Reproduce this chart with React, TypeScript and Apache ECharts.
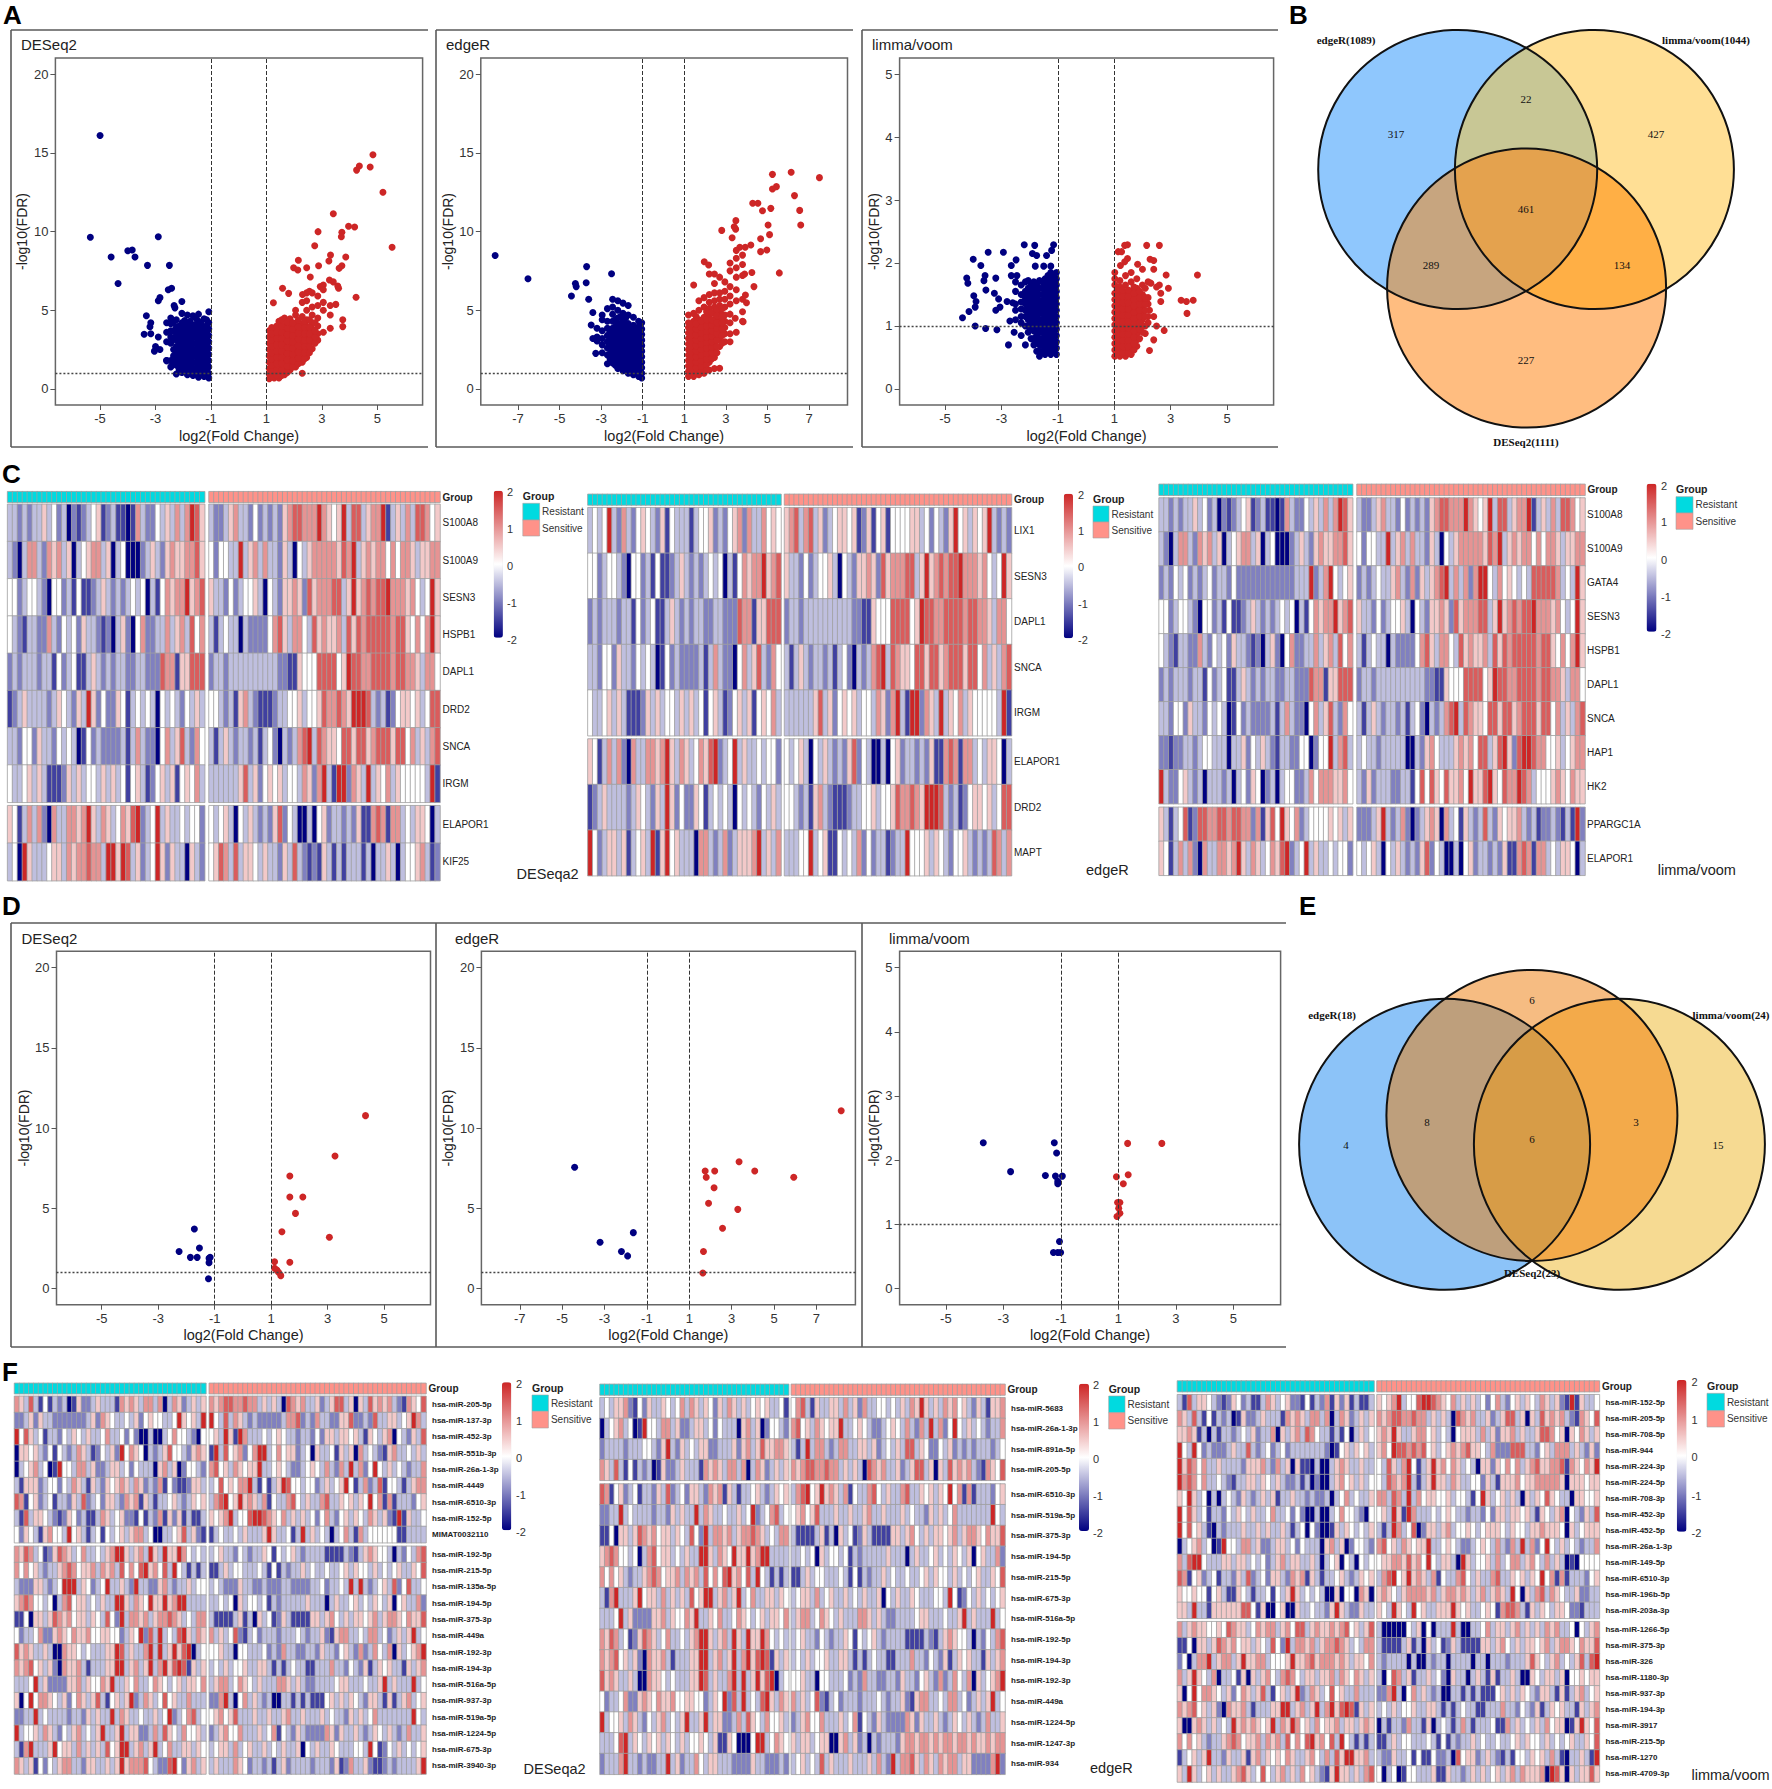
import React, { useEffect, useRef } from "react";
import * as echarts from "echarts";

// ---------- volcano data: typed reads from the picture ([x, y] outliers, [x, [y...]] dense columns)
const A1_BLUE_PTS = [[-5,16.1],[-5.35,9.63],[-2.9,9.67],[-4,8.78],[-3.84,8.83],[-4.6,8.38],[-3.74,8.38],[-3.29,7.85],[-2.5,7.85],[-4.35,6.7],[-2.54,6.3],[-2.42,6.4],[-2.9,5.6],[-2.84,5.8],[-2.05,5.55],[-2.33,5.3],[-2.3,5.15],[-3.33,4.65],[-3.17,4.2],[-3.2,3.95],[-3.41,3.47],[-3.17,3.5],[-2.9,3.3],[-3,2.7],[-3.04,2.4],[-2.84,2.5],[-2.6,1.8]];
const A1_BLUE_COLS: any[] = [[-1.08,[.7,1,1.4,1.8,2.2,2.6,3,3.4,3.8,4.2,4.9]],[-1.25,[.8,1.15,1.55,1.95,2.35,2.75,3.15,3.55,3.95,4.45]],[-1.45,[.75,1.1,1.5,1.9,2.3,2.7,3.1,3.5,3.9,4.3,4.75]],[-1.65,[.85,1.25,1.65,2.05,2.45,2.85,3.25,3.65,4.05,4.65]],[-1.85,[.9,1.3,1.7,2.1,2.5,2.9,3.3,3.7,4.1,4.7]],[-2.05,[1.05,1.4,1.8,2.2,2.6,3,3.4,3.8,4.2,4.8]],[-2.25,[.95,1.5,1.9,2.3,2.7,3.1,3.5,3.9,4.4]],[-2.45,[1.4,1.8,2.9,3.3,3.7,4.15,4.5]],[-2.6,[1.8,3,3.6,4.2]],
  [-1.16,[.9,1.25,1.6,2,2.4,2.8,3.2,3.6,4,4.4]],[-1.35,[.95,1.3,1.7,2.1,2.5,2.9,3.3,3.7,4.1]],[-1.55,[.95,1.3,1.7,2.1,2.5,2.9,3.3,3.7,4.1,4.5]],[-1.75,[1.05,1.45,1.85,2.25,2.65,3.05,3.45,3.85,4.3]],[-1.95,[1.1,1.5,1.9,2.3,2.7,3.1,3.5,3.9,4.35]],[-2.15,[1.2,1.6,2,2.4,2.8,3.2,3.6,4]],[-2.35,[1.65,2.1,2.5,3.2,3.7,4.2]]];
const A1_RED_PTS = [[4.84,14.88],[4.74,14.1],[4.35,14.16],[4.25,13.9],[5.2,12.49],[3.41,11.13],[3.96,10.33],[4.18,10.29],[2.86,9.99],[3.72,9.95],[3.7,9.67],[5.53,9],[2.74,9.1],[3.31,8.5],[3.86,8.38],[2.15,8.17],[3.25,8.13],[1.98,7.7],[2.13,7.55],[2.45,7.7],[2.88,7.83],[3.72,7.83],[3.62,7.66],[2.58,7.11],[3.27,6.92],[3.41,6.8],[3.57,6.54],[3.6,6.4],[2.94,6.5],[3.05,6.6],[1.58,6.4],[1.8,6.07],[4.23,5.82],[3.5,5.37],[1.25,5.48],[2.3,6],[2.55,6.2]];
const A1_RED_COLS: any[] = [[1.1,[.65,.95,1.3,1.7,2.1,2.5,2.9,3.3,3.7]],[1.28,[.7,1,1.4,1.8,2.2,2.6,3,3.4,3.8]],[1.45,[.7,1.05,1.45,1.85,2.25,2.65,3.05,3.45,3.85,4.3]],[1.65,[.9,1.25,1.65,2.05,2.45,2.85,3.25,3.65,4.05,4.5]],[1.85,[1.2,1.6,2,2.4,2.8,3.2,3.6,4,4.45]],[2.05,[1.4,1.75,2.15,2.55,2.95,3.35,3.75,4.15,4.7,5]],[2.29,[1,1.7,2.1,2.5,2.9,3.3,3.7,4.1,4.6,5.5]],[2.45,[2,2.4,2.8,3.2,3.6,4,4.4,5,5.6,6.1]],[2.65,[2.55,3,3.4,3.8,4.2,4.7,5.2,6.1]],[2.85,[3.1,3.5,4,4.5,5.3,5.9]],[3.05,[3.6,5,5.5,6.3]],[3.3,[3.85,4.7,5.3]],[3.75,[3.96,4.4]],
  [1.19,[.8,1.15,1.5,1.9,2.3,2.7,3.1,3.5,3.9]],[1.37,[.85,1.2,1.6,2,2.4,2.8,3.2,3.6,4]],[1.55,[.85,1.2,1.6,2,2.4,2.8,3.2,3.6,4,4.4]],[1.75,[1.05,1.45,1.85,2.25,2.65,3.05,3.45,3.85,4.25]],[1.95,[1.4,1.8,2.2,2.6,3,3.4,3.8,4.2]],[2.15,[1.6,1.95,2.35,2.75,3.15,3.55,3.95,4.4]],[2.37,[1.9,2.3,2.7,3.1,3.5,3.9,4.3]],[2.55,[2.3,2.7,3.1,3.5,3.9,4.4]],[2.75,[2.9,3.3,3.7,4.2]]];
const A2_BLUE_PTS = [[-8.1,8.47],[-6.52,7],[-3.7,7.77],[-2.5,7.32],[-3.72,6.75],[-4.24,6.7],[-4.2,6.5],[-4.43,5.9],[-3.6,5.7],[-3.4,4.85],[-3.48,4.06],[-3.26,2.26],[-3.4,3.2]];
const A2_BLUE_COLS: any[] = [[-1.05,[.7,1,1.35,1.7,2.05,2.4,2.75,3.1,3.45,3.8,4.2]],[-1.2,[.8,1.15,1.5,1.85,2.2,2.55,2.9,3.25,3.6,3.95,4.3]],[-1.45,[.9,1.25,1.6,1.95,2.3,2.65,3,3.35,3.7,4.05,4.55]],[-1.7,[1,1.35,1.7,2.05,2.4,2.75,3.1,3.45,3.8,4.15,4.7,5.3]],[-1.95,[1.15,1.5,1.85,2.2,2.55,2.9,3.25,3.6,3.95,4.3,4.8,5.45]],[-2.2,[1.3,1.65,2,2.35,2.7,3.05,3.4,3.75,4.1,4.5,5,5.6]],[-2.45,[1.65,2,2.35,2.75,3.15,3.5,3.85,4.3,4.75,5.2,5.7]],[-2.7,[1.6,2.15,2.6,3,3.4,3.85,4.3,5.1]],[-2.95,[2.3,2.8,3.2,3.7,4.4,4.7]],[-3.2,[3.05,3.3,3.85]],
  [-1.12,[.95,1.2,1.55,1.9,2.25,2.6,2.95,3.3,3.65,4]],[-1.32,[1,1.35,1.7,2.05,2.4,2.75,3.1,3.45,3.8]],[-1.57,[1.1,1.45,1.8,2.15,2.5,2.85,3.2,3.55,3.9]],[-1.82,[1.2,1.55,1.9,2.25,2.6,2.95,3.3,3.65,4,4.5]],[-2.07,[1.35,1.7,2.05,2.4,2.75,3.1,3.45,3.8,4.15,4.6]],[-2.32,[1.5,1.85,2.2,2.55,2.9,3.25,3.6,3.95,4.4]],[-2.57,[1.9,2.25,2.6,3,3.35,3.7]]];
const A2_RED_PTS = [[6.14,13.76],[5.24,13.63],[7.5,13.42],[5.43,12.85],[5.24,12.7],[6.3,12.28],[6.55,11.34],[4.29,11.79],[4.54,11.79],[5.16,11.47],[4.76,11.32],[6.6,10.41],[3.48,10.69],[3.4,10.3],[3.47,10.15],[2.8,10.07],[5.03,10.41],[5.1,9.8],[4.67,9.54],[3.3,9.6],[4.97,8.83],[4.67,8.72],[4.2,9.14],[3.93,9],[3.67,9],[5.57,7.37],[1.96,8.08],[2.17,7.87],[4.35,6.5],[3.94,5.97],[3.99,5.48],[3.45,4.49],[3.83,4.27],[4.25,7.4],[3.9,7.3]];
const A2_RED_COLS: any[] = [[1.2,[.8,1.1,1.45,1.8,2.15,2.5,2.85,3.2,3.55,3.9,4.2,4.7]],[1.45,[.8,1.15,1.5,1.85,2.2,2.55,2.9,3.25,3.6,3.95,4.3,4.8,6.6]],[1.7,[.9,1.25,1.6,1.95,2.3,2.65,3,3.35,3.7,4.05,4.4,5,5.6]],[1.95,[1,1.35,1.7,2.05,2.4,2.75,3.1,3.45,3.8,4.15,4.55,5.2,5.8]],[2.2,[1.2,1.7,2.1,2.45,2.8,3.15,3.5,3.85,4.2,4.6,5.1,5.5,6,7.3]],[2.45,[1.3,2,2.5,2.9,3.3,3.65,4,4.4,4.8,5.2,5.6,6.1,6.7,7.3]],[2.7,[1.31,2.7,3.2,3.6,4,4.4,4.85,5.3,5.7,6.1,7.1]],[2.95,[3,3.5,3.9,4.3,4.7,5.2,5.7,6.2,6.8]],[3.2,[3,3.5,4.2,4.75,5.4,5.9,6.5,7.5,8]],[3.5,[3.6,5.6,6.3,7.1,7.7,8.3,8.8]],[3.8,[4.3,4.9,5.7,7.2,7.9,8.5]],
  [1.32,[.95,1.3,1.65,2,2.35,2.7,3.05,3.4,3.75,4.1]],[1.57,[1,1.35,1.7,2.05,2.4,2.75,3.1,3.45,3.8,4.15,4.6]],[1.82,[1.1,1.45,1.8,2.15,2.5,2.85,3.2,3.55,3.9,4.3]],[2.07,[1.2,1.55,1.9,2.25,2.6,2.95,3.3,3.65,4,4.4,4.9]],[2.32,[1.9,2.3,2.65,3,3.35,3.7,4.05,4.4,4.85]],[2.57,[2.3,2.7,3.1,3.5,3.85,4.2,4.65,5.05]],[2.82,[2.9,3.4,3.8,4.2,4.6,5.1]]];
const A3_BLUE_PTS = [[-4.38,1.13],[-4.15,1.23],[-3.93,1],[-3.56,.96],[-3.16,.94],[-2.75,.7],[-4.23,1.76],[-4.19,1.68],[-4,2.06],[-3.73,1.96],[-3.47,2.17],[-2.93,2.17],[-2.19,2.29],[-1.82,2.28],[-1.15,2.29],[-1.9,2.15],[-1.75,2.12],[-1.4,2.12],[-1.22,2.2],[-2.65,1.96],[-2.48,2.05],[-1.8,1.95],[-1.5,1.95],[-1.25,1.95],[-3.58,1.8],[-3.62,1.72],[-3.2,1.76],[-2.65,1.8],[-2.45,1.8],[-3.98,1.48],[-3.55,1.57],[-3.25,1.52],[-3.9,1.39],[-3.93,1.3],[-3.1,1.43],[-3.2,1.25],[-3.05,1.3],[-2.8,1.39],[-2.6,1.37],[-2.7,1.08],[-2.5,1.25],[-2.55,.9],[-2.3,.85],[-2.15,.7]];
const A3_BLUE_COLS: any[] = [[-1.05,[.55,.65,.75,.85,.95,1.05,1.15,1.25,1.35,1.45,1.55,1.65,1.75,1.85]],[-1.25,[.55,.65,.75,.85,.95,1.05,1.15,1.25,1.35,1.45,1.55,1.65,1.75,1.85]],[-1.45,[.55,.65,.75,.85,.95,1.05,1.15,1.25,1.35,1.45,1.55,1.65,1.75]],[-1.65,[.52,.6,.7,.8,.9,1,1.1,1.2,1.3,1.4,1.5,1.6,1.72]],[-1.85,[.7,.8,.92,1.02,1.12,1.22,1.32,1.42,1.52,1.62,1.7]],[-2.05,[.9,1,1.1,1.2,1.3,1.4,1.5,1.6,1.72]],[-2.3,[1.05,1.15,1.27,1.38,1.5,1.65]],[-2.5,[1.1,1.35,1.55,1.7]],
  [-1.15,[.6,.7,.8,.9,1,1.1,1.2,1.3,1.4,1.5,1.6,1.7,1.8]],[-1.35,[.6,.7,.8,.9,1,1.1,1.2,1.3,1.4,1.5,1.6,1.7,1.8]],[-1.55,[.6,.7,.8,.9,1,1.1,1.2,1.3,1.4,1.5,1.6,1.7]],[-1.75,[.6,.75,.85,.95,1.05,1.15,1.25,1.35,1.45,1.55,1.65]],[-1.95,[.8,.95,1.05,1.15,1.25,1.35,1.45,1.55,1.65]],[-2.15,[1,1.15,1.25,1.35,1.45,1.55,1.7]]];
const A3_RED_PTS = [[1.47,2.29],[1.37,2.28],[1.14,2.18],[1.26,2.18],[2.15,2.28],[2.6,2.28],[1.47,2.07],[1.37,2.02],[1.22,1.96],[2.27,2.06],[2.4,2.04],[2.4,1.9],[1.83,1.98],[2,1.9],[2.84,1.81],[3.95,1.81],[2.6,1.65],[2.3,1.68],[2.5,1.62],[2.92,1.6],[2.65,1.52],[2.65,1.39],[3.37,1.41],[3.8,1.41],[3.56,1.39],[3.58,1.2],[2.5,1],[2.77,.93],[2.25,.61],[2.4,.78],[2.1,.88],[2.25,1.25],[2.4,1.15]];
const A3_RED_COLS: any[] = [[1.02,[.52,.62,.72,.82,.92,1.02,1.12,1.22,1.32,1.42,1.52,1.65,1.75,1.85]],[1.2,[.52,.62,.72,.82,.92,1.02,1.12,1.22,1.32,1.42,1.52,1.62,1.72]],[1.4,[.52,.62,.72,.82,.92,1.02,1.12,1.22,1.32,1.42,1.52,1.65,1.8]],[1.6,[.55,.65,.75,.85,.95,1.05,1.15,1.25,1.35,1.45,1.55,1.7,1.85]],[1.8,[.68,.78,.88,.98,1.08,1.18,1.28,1.38,1.48,1.6,1.75]],[2,[.9,1,1.1,1.2,1.3,1.4,1.5,1.65]],[2.2,[1.05,1.15,1.35,1.45,1.7]],
  [1.1,[.57,.67,.77,.87,.97,1.07,1.17,1.27,1.37,1.47,1.57]],[1.3,[.57,.67,.77,.87,.97,1.07,1.17,1.27,1.37,1.47,1.57]],[1.5,[.57,.67,.77,.87,.97,1.07,1.17,1.27,1.37,1.47,1.57]],[1.7,[.62,.72,.82,.92,1.02,1.12,1.22,1.32,1.42,1.52,1.62]],[1.9,[.8,.95,1.05,1.15,1.25,1.35,1.45,1.55]],[2.1,[1,1.15,1.25,1.35,1.45,1.6]]];
const D1_BLUE = [[-1.72,3.72],[-1.54,2.53],[-2.26,2.31],[-1.86,1.95],[-1.62,1.95],[-1.16,1.95],[-1.2,1.89],[-1.2,1.62],[-1.22,.62]];
const D1_RED = [[4.34,10.78],[3.26,8.27],[1.66,7.02],[1.66,5.71],[2.12,5.71],[1.86,4.69],[1.38,3.55],[3.06,3.2],[1.12,1.68],[1.66,1.64],[1.12,1.27],[1.2,1.16],[1.26,1.02],[1.34,.81]];
const D2_BLUE = [[-4.41,7.56],[-1.64,3.49],[-3.21,2.89],[-2.2,2.31],[-1.91,2.04]];
const D2_RED = [[8.17,11.09],[3.35,7.91],[1.75,7.33],[2.2,7.33],[4.09,7.33],[1.8,6.94],[5.93,6.94],[2.17,6.29],[1.91,5.32],[3.29,4.94],[2.57,3.76],[1.67,2.31],[1.64,.98]];
const D3_BLUE = [[-3.7,2.27],[-1.23,2.27],[-1.15,2.11],[-2.75,1.82],[-1.54,1.76],[-1.19,1.75],[-.95,1.75],[-1.11,1.67],[-1.11,1.63],[-1.05,.73],[-1.26,.56],[-1.11,.56],[-1.01,.56]];
const D3_RED = [[1.32,2.26],[2.51,2.26],[1.34,1.77],[.93,1.74],[1.17,1.63],[.97,1.34],[1.05,1.34],[1.01,1.25],[1.05,1.17],[.95,1.12]];

const TICKS_5 = [-5, -3, -1, 1, 3, 5];
const TICKS_7 = [-7, -5, -3, -1, 1, 3, 5, 7];
const Y20 = [0, 5, 10, 15, 20];
const Y5 = [0, 1, 2, 3, 4, 5];

// ---------- heatmap rows: one digit per cell, 0 = -2 ... 4 = 0 ... 8 = +2  (Resistant, Sensitive)
const GENE_ROWS: Record<string, string[]> = {
  S100A8: ["3323233534 2302123451 2311016322 4353636875", "3223563324 2323256776 6686545837 7356681353 6377645"],
  S100A9: ["3203663265 6350345663 5034000235 3256556675", "4244338356 3633253043 5666665768 3565664646 6535566"],
  SESN3: ["4423443204 4231411235 3232343403 1465668567", "5332423445 3043255652 7566677358 5676778666 5643485"],
  HSPB1: ["4321332263 2434253321 2035204622 3363563746", "3134330322 2246753664 3756556375 7677777677 5464685"],
  DAPL1: ["2323332331 4234113532 3233223322 2766155777", "2332333333 3333221154 4477774587 7667777677 6653664"],
  DRD2: ["1235333323 5432538524 2254134343 0434324353", "4432315632 1112334453 4457667658 8873231245 5453477"],
  SNCA: ["3324425332 4343014232 2223136322 0463573264", "3135323323 1342032367 8376554775 7756777577 4635367"],
  IRGM: ["4334535311 1253534435 3534145312 4535145463", "3333335735 2454534436 5268318826 5383546354 4444381"],
  ELAPOR1: ["5413636206 3366568536 5346578234 8353343442", "4345304353 2325724300 3045233232 5116761663 4355403"],
  KIF25: ["3408533345 5365667663 8858735234 8525330532", "4576373554 3533253732 1215313133 3130335303 4456312"],
  LIX1: ["3434832632 4543251433 3134452324 5626336454", "5673673523 4554512514 5144445534 2432584535 4583232"],
  MAPT: ["8423553513 4538158453 3306632362 3555683536", "3334483451 1434362423 3123384445 3543244532 3237636"],
  GATA4: ["2324342323 4233242222 2222222233 3823684345", "2323433563 2625356783 6362688436 4543437777 7634385"],
  HAP1: ["2212233234 4333033524 3532133224 4024483673", "3433233333 0032564333 5656477357 8527887664 4534566"],
  HK2: ["8322453230 3332303425 4023034422 3646665564", "3252333223 3147475475 5648557854 7668763444 5654655"],
  PPARGC1A: ["5313471277 6677677662 6157485462 3444454535", "2223583236 2023565063 4153237325 4556323122 3213182"],
};
const MIR_ROWS: Record<string, string[]> = {
  "205-5p": ["6537314132 3015223533 3165653663 6036523535", "6567766766 3535307656 3352357735 0537565632 16547"],
  "137-3p": ["2235253322 2222235265 4334352454 4334854538", "8437365323 2222236672 3263322557 2232733553 45863"],
  "452-3p": ["8475341332 4354353346 3342420030 0346443204", "4538518633 3434543323 3242553554 5315435604 32537"],
  "551b-3p": ["0554532414 3236531243 5284654032 3574432565", "1837456246 8834645523 4053341535 0634321563 34353"],
  "26a-1-3p": ["0345634018 4436635223 5534243330 5635024432", "6745365455 8334543223 4543632638 3624843534 32336"],
  "4449": ["3155523442 4365315325 4565365232 6142112553", "3474546683 1413587443 4423534584 1362371443 13566"],
  "6510-3p": ["7614523413 3253723425 5326561531 3345323545", "3678458565 3614336743 5336733545 3548461613 33245"],
  "152-5p": ["3173554321 2542311365 3452214132 6152513113", "5456834478 8765463535 3424632453 5436535218 15334"],
  MIMAT0032110: ["4254315644 3845313414 3453566340 0334573521", "1343343533 3585334138 3534303463 1634444441 13333"],
  "192-5p": ["6576341257 6534633435 6885356385 3855864343", "3453324323 3541434532 3333111132 1356544303 24367"],
  "215-5p": ["6464532335 6764556365 6374647856 4738431313", "1135344333 4314132335 3433433453 5443534345 33547"],
  "135a-5p": ["3222553234 8883542348 3353283322 5632335344", "3432225332 2322233222 2334233438 3832345372 47334"],
  "194-5p": ["5676443403 6745534353 3885365485 5856883333", "3343405344 3413233333 5333035334 5343543504 53362"],
  "375-3p": ["1140553576 5645535437 4283665635 6676534366", "3111135130 5341253111 1553564353 5545635665 46557"],
  "449a": ["4233462256 5465564455 4423548273 8343785365", "6353472134 2333233343 2335215663 3436634235 35834"],
  "192-3p": ["7565335300 6554343335 5873533683 8358578034", "4453304433 3423263322 3325332453 2623643605 34568"],
  "194-3p": ["6567453520 6556313335 5883563583 6857871535", "3435344533 5531313433 1133363324 3251354533 15356"],
  "516a-5p": ["3334835222 2556354465 8335463346 5434535546", "3566346543 5333665353 2233334553 3343358353 33834"],
  "937-3p": ["5048466543 5246535731 4535823653 4745336333", "2268304635 3230033131 3111453535 4325531513 56345"],
  "519a-5p": ["2233834333 3233253533 8365334335 3482346734", "4564573335 3353356335 3335343325 3534633333 33843"],
  "1224-5p": ["8344536532 4356343583 3583552236 3754364453", "2356446333 5346143253 2222652533 5323543532 36335"],
  "675-3p": ["3168333584 5536353537 4588356358 3463355354", "3455363453 3534353350 4353354333 4438412435 34345"],
  "3940-3p": ["6535142435 6633255335 3585666743 2278425635", "3533365423 3231352333 3233325126 3352112323 33358"],
  "5683": ["3435562142 5335434636 5354253653 5345453341", "4673153355 3635263344 3435365853 5365645325 31556"],
  "891a-5p": ["2333323334 4325832534 3552233352 5635755665", "3138366323 6633553523 4353773542 2435232323 33234"],
  "1247-3p": ["3334783543 5453543534 4543511540 0048834654", "5355345500 5635230323 3325665665 6566566565 56566"],
  "934": ["2333683323 2233835233 6435533322 2253322232", "3453437353 3353335363 2836675365 3656635522 22682"],
  "708-5p": ["5565130313 3234352336 0535637643 3131403534", "5658533566 4534304555 3635255635 3357764505 46535"],
  "944": ["8438423222 3533732342 3423333333 2014535453", "5648776767 4534565675 5436222777 3324536663 53252"],
  "224-3p": ["8576463353 3332555632 6350511030 0356533533", "4375368413 5856465343 0552546463 5675566716 54658"],
  "224-5p": ["8676463343 2133553543 5322313020 0356453534", "4376568313 5855365334 4253155564 5566666505 55455"],
  "708-3p": ["5485340303 4325323535 1335332322 3034634335", "6637638364 5544534431 4853453530 5354754330 55445"],
  "452-5p": ["8474531032 3335335353 3531340420 0153543435", "3138634702 5535634454 3455543544 3556555405 34555"],
  "149-5p": ["6378843335 5355343423 5635533530 3450430434", "4556657564 8435530853 4453634663 5643635301 04444"],
  "196b-5p": ["5445441453 1154313341 4358534343 0050440650", "5654356666 5635665653 5635653840 5367365433 52233"],
  "203a-3p": ["5538331555 5557741500 4500533433 2585322533", "5438543845 3355585453 3454167763 1535435542 21333"],
  "1266-5p": ["6356554454 7655346566 3564773565 5656745357", "3000004350 4033383003 3463553563 5353656334 04356"],
  "326": ["2403668356 6358556634 4458556756 6656535546", "3233330300 3233033330 3303332333 5754356343 57378"],
  "1180-3p": ["6358543603 3415053564 3676435535 5636546535", "3047635133 5342053303 5315133530 0543553504 45455"],
  "3917": ["5005653534 3856565458 3658645364 5563553565", "0313326331 5034313631 3334116353 4353645501 58547"],
  "1270": ["1345358332 5335156354 5465335643 6375885563", "3225334141 1422307455 2353213144 3545363103 35318"],
  "4709-3p": ["5385345353 3567534743 5635364532 1585535367", "4034014433 3511533235 3534535636 5556087505 35575"],
};
const C1_ROWS = ["S100A8", "S100A9", "SESN3", "HSPB1", "DAPL1", "DRD2", "SNCA", "IRGM", "ELAPOR1", "KIF25"];
const C2_ROWS = ["LIX1", "SESN3", "DAPL1", "SNCA", "IRGM", "ELAPOR1", "DRD2", "MAPT"];
const C3_ROWS = ["S100A8", "S100A9", "GATA4", "SESN3", "HSPB1", "DAPL1", "SNCA", "HAP1", "HK2", "PPARGC1A", "ELAPOR1"];
const F1_ROWS = ["205-5p", "137-3p", "452-3p", "551b-3p", "26a-1-3p", "4449", "6510-3p", "152-5p", "MIMAT0032110", "192-5p", "215-5p", "135a-5p", "194-5p", "375-3p", "449a", "192-3p", "194-3p", "516a-5p", "937-3p", "519a-5p", "1224-5p", "675-3p", "3940-3p"];
const F2_ROWS = ["5683", "26a-1-3p", "891a-5p", "205-5p", "6510-3p", "519a-5p", "375-3p", "194-5p", "215-5p", "675-3p", "516a-5p", "192-5p", "194-3p", "192-3p", "449a", "1224-5p", "1247-3p", "934"];
const F3_ROWS = ["152-5p", "205-5p", "708-5p", "944", "224-3p", "224-5p", "708-3p", "452-3p", "452-5p", "26a-1-3p", "149-5p", "6510-3p", "196b-5p", "203a-3p", "1266-5p", "375-3p", "326", "1180-3p", "937-3p", "194-3p", "3917", "215-5p", "1270", "4709-3p"];
const BAR_TICKS = ["2", "1", "0", "-1", "-2"];

const SANS = "Liberation Sans";
const SERIF = "Liberation Serif";
const expand = (pts: number[][], cols: any[]) => {
  const out = pts.map((p) => p.slice());
  cols.forEach(([x, ys]: any) => ys.forEach((y: number) => out.push([x, y])));
  return out;
};

const VOLCANO = [
  { title: "DESeq2", tx: 21, ty: 44, l: 55.4, r: 422.6, t: 58, b: 405, xr: [-6.61, 6.63], yr: [-1.02, 21.02], xt: TICKS_5, yt: Y20, ng: 26, blue: expand(A1_BLUE_PTS, A1_BLUE_COLS), red: expand(A1_RED_PTS, A1_RED_COLS) },
  { title: "edgeR", tx: 446, ty: 44, l: 480.8, r: 847.5, t: 58, b: 405, xr: [-8.79, 8.85], yr: [-1.02, 21.02], xt: TICKS_7, yt: Y20, ng: 26, blue: expand(A2_BLUE_PTS, A2_BLUE_COLS), red: expand(A2_RED_PTS, A2_RED_COLS) },
  { title: "limma/voom", tx: 872, ty: 44, l: 899.6, r: 1273.6, t: 58, b: 405, xr: [-6.61, 6.65], yr: [-0.254, 5.254], xt: TICKS_5, yt: Y5, ng: 18, blue: expand(A3_BLUE_PTS, A3_BLUE_COLS), red: expand(A3_RED_PTS, A3_RED_COLS) },
  { title: "DESeq2", tx: 21.5, ty: 938, l: 56.5, r: 430.5, t: 951.3, b: 1304.7, xr: [-6.6, 6.64], yr: [-1, 21.02], xt: TICKS_5, yt: Y20, ng: 26, blue: D1_BLUE, red: D1_RED },
  { title: "edgeR", tx: 455, ty: 938, l: 481.4, r: 855.4, t: 951.3, b: 1304.7, xr: [-8.81, 8.84], yr: [-1, 21.02], xt: TICKS_7, yt: Y20, ng: 26, blue: D2_BLUE, red: D2_RED },
  { title: "limma/voom", tx: 889, ty: 938, l: 899.6, r: 1280.6, t: 951.3, b: 1304.7, xr: [-6.61, 6.64], yr: [-0.254, 5.254], xt: TICKS_5, yt: Y5, ng: 18, blue: D3_BLUE, red: D3_RED },
];

const C_NAMES = (k: string) => k;
const F_NAMES = (k: string) => (k.startsWith("MIMAT") ? k : "hsa-miR-" + k);
const HEATMAPS = [
  { keys: C1_ROWS, table: GENE_ROWS, name: C_NAMES, split: 8, n: [40, 47], xR: [7.6, 204.7], xS: [209, 440], ann: [491.7, 502.3], up: [504.3, 802.3], lo: [805.7, 880.7], m: 2.5, fs: 10, bold: false, bar: [493.7, 490.7, 9.2, 147], barX: 507, barY: [492, 529, 566, 603, 640], lg: [522.8, 539.6, 495.7, 503.3, 520, 536], note: "DESeqa2", nx: 516.6, ny: 874 },
  { keys: C2_ROWS, table: GENE_ROWS, name: C_NAMES, split: 5, n: [40, 47], xR: [587.9, 781], xS: [784.5, 1011.5], ann: [494.3, 505], up: [507.7, 735.7], lo: [739, 875.7], m: 2.5, fs: 10, bold: false, bar: [1063.8, 493.7, 9.2, 144.6], barX: 1078, barY: [495, 531, 567, 604, 640], lg: [1093, 1109, 499, 506, 522, 538], note: "edgeR", nx: 1086, ny: 870 },
  { keys: C3_ROWS, table: GENE_ROWS, name: C_NAMES, split: 9, n: [40, 47], xR: [1159.1, 1352.7], xS: [1357, 1585], ann: [484.3, 495.3], up: [498, 803.7], lo: [807.3, 875.3], m: 2, fs: 10, bold: false, bar: [1646.6, 483.7, 9.9, 148], barX: 1661, barY: [485.7, 522, 559.7, 596.7, 633.7], lg: [1676, 1693, 489, 496.7, 513, 529.3], note: "limma/voom", nx: 1657.7, ny: 869.7 },
  { keys: F1_ROWS, table: MIR_ROWS, name: F_NAMES, split: 9, n: [40, 45], xR: [14.5, 205.9], xS: [209.3, 426], ann: [1383.3, 1393.7], up: [1396.3, 1542.7], lo: [1546.3, 1774], m: 6, fs: 8, bold: true, bar: [502, 1382.3, 9.3, 148], barX: 516, barY: [1383.7, 1420.7, 1457.7, 1495, 1532], lg: [532, 548.4, 1387.7, 1395, 1411.3, 1428], note: "DESeqa2", nx: 523.5, ny: 1769 },
  { keys: F2_ROWS, table: MIR_ROWS, name: F_NAMES, split: 4, n: [40, 45], xR: [600, 788.7], xS: [791.3, 1005], ann: [1384.3, 1395], up: [1397.7, 1480.3], lo: [1484, 1774.3], m: 6, fs: 8, bold: true, bar: [1079, 1383.7, 10, 147.3], barX: 1093, barY: [1385, 1422, 1459, 1496, 1533], lg: [1108.7, 1125, 1388.7, 1396, 1412.7, 1429], note: "edgeR", nx: 1090, ny: 1768 },
  { keys: F3_ROWS, table: MIR_ROWS, name: F_NAMES, split: 14, n: [40, 45], xR: [1177.4, 1374], xS: [1377, 1599.4], ann: [1381, 1391.7], up: [1394.7, 1618.3], lo: [1621.7, 1782], m: 6, fs: 8, bold: true, bar: [1676.8, 1380, 9.7, 151.7], barX: 1691.5, barY: [1382, 1419.7, 1457, 1495.7, 1533], lg: [1707, 1724.4, 1385.7, 1393.3, 1410.7, 1427], note: "limma/voom", nx: 1691.5, ny: 1775 },
];

const VENNS = [
  {
    a: [1457.7, 169.5], b: [1594.4, 169.5], c: [1526.6, 288], r: 139.5, id: "b",
    colors: { a: "#8FC7FD", b: "#FFDF95", c: "#FFBD80", ab: "#C8C795", ac: "#C7A57F", bc: "#FFAF45", abc: "#E4A24E" },
    labels: [["edgeR(1089)", 1346, 40, 1], ["limma/voom(1044)", 1706, 40, 1], ["22", 1526, 99, 0], ["317", 1396, 134, 0], ["427", 1656, 134, 0], ["461", 1526, 209, 0], ["289", 1431, 265, 0], ["134", 1622, 265, 0], ["227", 1526, 360, 0], ["DESeq2(1111)", 1526, 442, 1]],
    fullLens: false,
  },
  {
    a: [1444.6, 1144.3], b: [1619.4, 1144.3], c: [1531.9, 1115.5], r: 145.5, id: "e",
    colors: { a: "#8CC3F8", b: "#F6DA92", c: "#F6BC82", ab: "#D79C47", ac: "#BE9F7C", bc: "#F3AA4A", abc: "#D79C47" },
    labels: [["6", 1532, 1000, 0], ["edgeR(18)", 1332, 1015, 1], ["limma/voom(24)", 1731, 1015, 1], ["8", 1427, 1122, 0], ["4", 1346, 1145, 0], ["6", 1532, 1139, 0], ["3", 1636, 1122, 0], ["15", 1718, 1145, 0], ["DESeq2(23)", 1532, 1273, 1]],
    fullLens: true,
  },
];

const meet = (p: number[], q: number[], r: number) => {
  const mx = (p[0] + q[0]) / 2, my = (p[1] + q[1]) / 2;
  const dx = q[0] - p[0], dy = q[1] - p[1], d = Math.hypot(dx, dy);
  const h = Math.sqrt(r * r - (d * d) / 4);
  return [[mx - (dy / d) * h, my + (dx / d) * h], [mx + (dy / d) * h, my - (dx / d) * h]];
};
const lensPath = (p: number[], q: number[], r: number) => {
  const [u, v] = meet(p, q, r);
  return `M${u[0]} ${u[1]}A${r} ${r} 0 0 1 ${v[0]} ${v[1]}A${r} ${r} 0 0 1 ${u[0]} ${u[1]}Z`;
};
const triplePath = (a: number[], b: number[], c: number[], r: number) => {
  const inside = (p: number[], o: number[]) => Math.hypot(p[0] - o[0], p[1] - o[1]) < r;
  const ab = meet(a, b, r).find((p) => inside(p, c))!;
  const ac = meet(a, c, r).find((p) => inside(p, b))!;
  const bc = meet(b, c, r).find((p) => inside(p, a))!;
  const cross = (ac[0] - ab[0]) * (bc[1] - ab[1]) - (ac[1] - ab[1]) * (bc[0] - ab[0]);
  const s = cross > 0 ? 1 : 0;
  return `M${ab[0]} ${ab[1]}A${r} ${r} 0 0 ${s} ${ac[0]} ${ac[1]}A${r} ${r} 0 0 ${s} ${bc[0]} ${bc[1]}A${r} ${r} 0 0 ${s} ${ab[0]} ${ab[1]}Z`;
};

const txt = (text: string, x: number, y: number, fontSize: number, extra: any = {}) => ({
  type: "text", x, y, silent: true,
  style: { text, fontSize, fontFamily: SANS, fill: "#222", align: "left", verticalAlign: "middle", ...extra },
});
const seg = (x1: number, y1: number, x2: number, y2: number) => ({
  type: "line", silent: true, shape: { x1, y1, x2, y2 }, style: { stroke: "#5a5a5a", lineWidth: 1.6 },
});

function buildOption() {
  const grid: any[] = [], xAxis: any[] = [], yAxis: any[] = [], series: any[] = [], visualMap: any[] = [], graphic: any[] = [];

  VOLCANO.forEach((p) => {
    const i = grid.length;
    grid.push({ left: p.l, top: p.t, width: p.r - p.l, height: p.b - p.t, show: true, borderColor: "#666", borderWidth: 1.5, backgroundColor: "transparent" });
    xAxis.push({
      type: "value", gridIndex: i, min: p.xr[0], max: p.xr[1], splitLine: { show: false },
      axisLine: { show: false, onZero: false },
      axisTick: { show: true, length: 5, customValues: p.xt, lineStyle: { color: "#555" } },
      axisLabel: { customValues: p.xt, fontSize: 13, color: "#333", margin: 7, fontFamily: SANS },
      name: "log2(Fold Change)", nameLocation: "middle", nameGap: 23, nameTextStyle: { fontSize: 14.5, color: "#222", fontFamily: SANS },
    });
    yAxis.push({
      type: "value", gridIndex: i, min: p.yr[0], max: p.yr[1], splitLine: { show: false },
      axisLine: { show: false, onZero: false },
      axisTick: { show: true, length: 5, customValues: p.yt, lineStyle: { color: "#555" } },
      axisLabel: { customValues: p.yt, fontSize: 13, color: "#333", margin: 7, fontFamily: SANS },
      name: "-log10(FDR)", nameLocation: "middle", nameGap: p.ng, nameTextStyle: { fontSize: 14, color: "#222", fontFamily: SANS },
    });
    const mk = {
      silent: true, symbol: "none", label: { show: false }, animation: false,
      data: [
        { xAxis: -1, lineStyle: { type: "dashed", width: 1, color: "#333" } },
        { xAxis: 1, lineStyle: { type: "dashed", width: 1, color: "#333" } },
        { yAxis: 1, lineStyle: { type: [2, 2], width: 1.3, color: "#444" } },
      ],
    };
    series.push({ type: "scatter", xAxisIndex: i, yAxisIndex: i, symbolSize: 7, data: p.blue, itemStyle: { color: "#000080", opacity: 1 }, silent: true });
    series.push({ type: "scatter", xAxisIndex: i, yAxisIndex: i, symbolSize: 7, data: p.red, itemStyle: { color: "#CD2626", opacity: 1 }, silent: true, markLine: mk });
    graphic.push(txt(p.title, p.tx, p.ty, 15));
  });

  const annotationSeries: number[] = [];
  HEATMAPS.forEach((h) => {
    const own: number[] = [];
    const addBlock = (xr: number[], yr: number[], cols: number, rowNames: string[], data: number[][], isAnn: boolean, labelled: boolean, annText: boolean) => {
      const i = grid.length;
      grid.push({ left: xr[0], top: yr[0], width: xr[1] - xr[0], height: yr[1] - yr[0], show: false });
      xAxis.push({ type: "category", gridIndex: i, data: Array.from({ length: cols }, (_, c) => String(c)), show: false });
      yAxis.push({
        type: "category", gridIndex: i, inverse: true, data: rowNames, position: "right", show: labelled,
        axisLine: { show: false }, axisTick: { show: false }, splitLine: { show: false },
        axisLabel: {
          show: labelled, interval: 0, align: "left", margin: annText ? 2.5 : h.m,
          fontSize: annText ? 10 : h.fs, fontWeight: annText || h.bold ? "bold" : "normal", color: "#222", fontFamily: SANS,
        },
      });
      const s = series.length;
      series.push({
        type: "heatmap", xAxisIndex: i, yAxisIndex: i, data, silent: true, progressive: 0,
        itemStyle: { borderColor: "#a0a0a0", borderWidth: 0.8 },
      });
      (isAnn ? annotationSeries : own).push(s);
    };
    const rows = h.keys.map((k) => {
      const [a, b] = (h.table as any)[k];
      const dec = (t: string) => t.replace(/ /g, "").split("").map((d) => (Number(d) - 4) / 2);
      return [dec(a), dec(b)];
    });
    const names = h.keys.map(h.name);
    const cells = (block: number, from: number, to: number) => {
      const out: number[][] = [];
      for (let r = from; r < to; r++) rows[r][block].slice(0, h.n[block]).forEach((v, c) => out.push([c, r - from, v]));
      return out;
    };
    const annCells = (cols: number, v: number) => Array.from({ length: cols }, (_, c) => [c, 0, v]);
    addBlock(h.xR, h.ann, h.n[0], ["Group"], annCells(h.n[0], 0), true, false, false);
    addBlock(h.xS, h.ann, h.n[1], ["Group"], annCells(h.n[1], 1), true, true, true);
    addBlock(h.xR, h.up, h.n[0], names.slice(0, h.split), cells(0, 0, h.split), false, false, false);
    addBlock(h.xS, h.up, h.n[1], names.slice(0, h.split), cells(1, 0, h.split), false, true, false);
    addBlock(h.xR, h.lo, h.n[0], names.slice(h.split), cells(0, h.split, h.keys.length), false, false, false);
    addBlock(h.xS, h.lo, h.n[1], names.slice(h.split), cells(1, h.split, h.keys.length), false, true, false);
    visualMap.push({
      type: "continuous", min: -2, max: 2, seriesIndex: own, left: h.bar[0], top: h.bar[1], itemWidth: h.bar[2], itemHeight: h.bar[3],
      padding: 0, calculable: false, hoverLink: false, inRange: { color: ["#000080", "#FFFFFF", "#CD2626"] },
    });
    BAR_TICKS.forEach((t, k) => graphic.push(txt(t, h.barX, h.barY[k], 11, { fill: "#333" })));
    const [lx0, lx1, gy, y0, y1, y2] = h.lg;
    graphic.push(txt("Group", lx0, gy, 10.5, { fontWeight: "bold" }));
    graphic.push({ type: "rect", silent: true, shape: { x: lx0, y: y0, width: lx1 - lx0, height: y1 - y0 }, style: { fill: "#00DAE0", stroke: "#a3a3a3", lineWidth: 0.6 } });
    graphic.push({ type: "rect", silent: true, shape: { x: lx0, y: y1, width: lx1 - lx0, height: y2 - y1 }, style: { fill: "#FF9289", stroke: "#a3a3a3", lineWidth: 0.6 } });
    graphic.push(txt("Resistant", lx1 + 2.5, (y0 + y1) / 2, 10, { fill: "#333" }));
    graphic.push(txt("Sensitive", lx1 + 2.5, (y1 + y2) / 2, 10, { fill: "#333" }));
    graphic.push(txt(h.note, h.nx, h.ny, 14.5, { fill: "#222" }));
  });
  visualMap.push({ type: "continuous", show: false, min: 0, max: 1, seriesIndex: annotationSeries, inRange: { color: ["#00DAE0", "#FF9289"] } });

  // panel frames
  [[11, 428], [436, 853], [862, 1278]].forEach(([a, b]) => {
    graphic.push(seg(a, 30, b, 30), seg(a, 447, b, 447), seg(a, 30, a, 447));
  });
  graphic.push(seg(11, 923, 1286, 923), seg(11, 1347, 1286, 1347), seg(11, 923, 11, 1347), seg(436, 923, 436, 1347), seg(862, 923, 862, 1347));

  // venns
  VENNS.forEach((v) => {
    const circle = (o: number[], fill: string, stroke: string) => ({
      type: "circle", silent: true, shape: { cx: o[0], cy: o[1], r: v.r }, style: { fill, stroke, lineWidth: 2 },
    });
    graphic.push(circle(v.a, v.colors.a, "none"), circle(v.b, v.colors.b, "none"), circle(v.c, v.colors.c, "none"));
    const shapes: [string, string, string][] = [
      [v.id + "ab", lensPath(v.a, v.b, v.r), v.colors.ab],
      [v.id + "ac", lensPath(v.a, v.c, v.r), v.colors.ac],
      [v.id + "bc", lensPath(v.b, v.c, v.r), v.colors.bc],
    ];
    if (v.fullLens) shapes.push([v.id + "abc", lensPath(v.a, v.b, v.r), v.colors.abc]);
    else shapes.push([v.id + "abc", triplePath(v.a, v.b, v.c, v.r), v.colors.abc]);
    shapes.forEach(([name, d, fill]) => {
      echarts.graphic.registerShape("venn_" + name, echarts.graphic.extendPath(d, {}) as any);
      graphic.push({ type: "venn_" + name, silent: true, x: 0, y: 0, style: { fill } });
    });
    graphic.push(circle(v.a, "none", "#111"), circle(v.b, "none", "#111"), circle(v.c, "none", "#111"));
    v.labels.forEach(([t, x, y, bold]: any) =>
      graphic.push(txt(t, x, y, 11, { fontFamily: SERIF, fontWeight: bold ? "bold" : "normal", align: "center", fill: "#111" })),
    );
  });

  // panel letters
  ([["A", 3, 15], ["B", 1289, 15], ["C", 2, 474], ["D", 2, 906], ["E", 1299, 906], ["F", 2, 1372]] as any[]).forEach(([t, x, y]) =>
    graphic.push(txt(t, x, y, 26, { fontWeight: "bold", fill: "#000" })),
  );

  return { animation: false, backgroundColor: "#fff", grid, xAxis, yAxis, series, visualMap, graphic };
}

export default function App() {
  const ref = useRef<HTMLDivElement>(null);
  useEffect(() => {
    document.body.style.margin = "0";
    const chart = echarts.init(ref.current!, undefined, { renderer: "svg" });
    chart.setOption(buildOption() as any);
    return () => chart.dispose();
  }, []);
  return <div ref={ref} style={{ position: "absolute", left: 0, top: 0, width: 1772, height: 1789 }} />;
}
